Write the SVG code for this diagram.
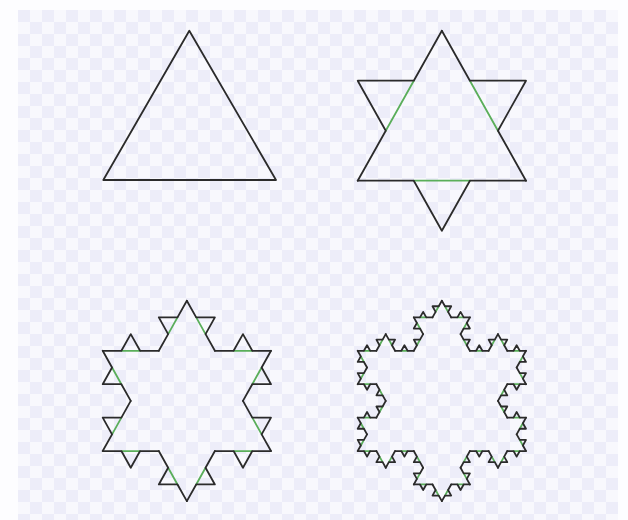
<svg xmlns="http://www.w3.org/2000/svg" xmlns:xlink="http://www.w3.org/1999/xlink" width="628" height="520" viewBox="0 0 628 520">
<style>
.k{fill:none;stroke:#2b2b2b;stroke-width:1.8;stroke-linecap:round;stroke-linejoin:round;vector-effect:non-scaling-stroke}
.g{fill:none;stroke:#5aae5a;stroke-width:1.8;stroke-linecap:round;vector-effect:non-scaling-stroke}
</style>
<defs>
<pattern id="chk" x="18" y="10" width="24" height="24" patternUnits="userSpaceOnUse">
<rect width="24" height="24" fill="#f8f8fd"/>
<rect width="12" height="12" fill="#ededf9"/>
<rect x="12" y="12" width="12" height="12" fill="#ededf9"/>
</pattern>
<g id="L1">
<path class="g" d="M0.333333 0H0.666667"/>
<path class="k" d="M0 0L0.333333 0L0.5 -0.288675L0.666667 0L1 0"/>
</g>
<g id="L2">
<use xlink:href="#L1" href="#L1" transform="scale(0.333333)"/>
<use xlink:href="#L1" href="#L1" transform="translate(0.333333 0) rotate(-60) scale(0.333333)"/>
<use xlink:href="#L1" href="#L1" transform="translate(0.5 -0.288675) rotate(60) scale(0.333333)"/>
<use xlink:href="#L1" href="#L1" transform="translate(0.666667 0) scale(0.333333)"/>
</g>
<g id="L3">
<use xlink:href="#L2" href="#L2" transform="scale(0.333333)"/>
<use xlink:href="#L2" href="#L2" transform="translate(0.333333 0) rotate(-60) scale(0.333333)"/>
<use xlink:href="#L2" href="#L2" transform="translate(0.5 -0.288675) rotate(60) scale(0.333333)"/>
<use xlink:href="#L2" href="#L2" transform="translate(0.666667 0) scale(0.333333)"/>
</g>
</defs>
<rect width="628" height="520" fill="#fdfdff"/>
<rect x="18" y="10" width="600" height="510" fill="url(#chk)"/>

<g id="level0">
<polygon class="k" points="189.3,30.7 276,180 103.3,180"/>
</g>

<g id="level1" transform="matrix(168.3 0 0 173.2 357.7 30.7)">
<use xlink:href="#L1" href="#L1" transform="translate(0.5 0) rotate(60)"/>
<use xlink:href="#L1" href="#L1" transform="translate(1 0.866025) rotate(180)"/>
<use xlink:href="#L1" href="#L1" transform="translate(0 0.866025) rotate(-60)"/>
</g>

<g id="level2" transform="matrix(168.3 0 0 173.6 102.7 300.7)">
<use xlink:href="#L2" href="#L2" transform="translate(0.5 0) rotate(60)"/>
<use xlink:href="#L2" href="#L2" transform="translate(1 0.866025) rotate(180)"/>
<use xlink:href="#L2" href="#L2" transform="translate(0 0.866025) rotate(-60)"/>
</g>

<g id="level3" transform="matrix(168.3 0 0 173.6 357.7 300.7)">
<use xlink:href="#L3" href="#L3" transform="translate(0.5 0) rotate(60)"/>
<use xlink:href="#L3" href="#L3" transform="translate(1 0.866025) rotate(180)"/>
<use xlink:href="#L3" href="#L3" transform="translate(0 0.866025) rotate(-60)"/>
</g>
</svg>
